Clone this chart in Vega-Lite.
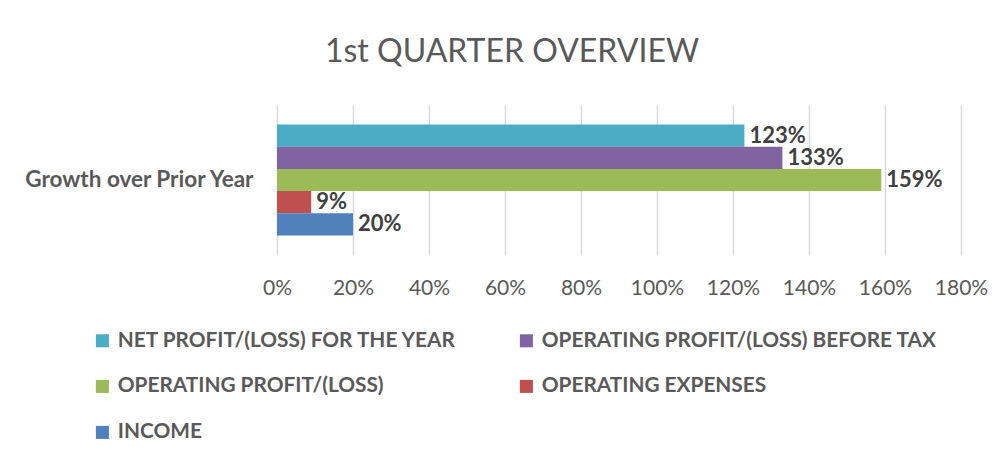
{
  "$schema": "https://vega.github.io/schema/vega-lite/v6.json",
  "width": 684,
  "height": 150,
  "autosize": "none",
  "padding": {"left": 277, "top": 105, "right": 42, "bottom": 203},
  "background": "white",
  "config": {"view": {"stroke": null}},
  "title": {
    "text": "1st QUARTER OVERVIEW",
    "font": "Lato",
    "fontSize": 32,
    "fontWeight": "normal",
    "color": "#595959",
    "anchor": "middle",
    "dx": -107,
    "offset": 36
  },
  "data": {
    "values": [
      {"category": "Growth over Prior Year", "series": "NET PROFIT/(LOSS) FOR THE YEAR", "value": 1.23},
      {"category": "Growth over Prior Year", "series": "OPERATING PROFIT/(LOSS) BEFORE TAX", "value": 1.33},
      {"category": "Growth over Prior Year", "series": "OPERATING PROFIT/(LOSS)", "value": 1.59},
      {"category": "Growth over Prior Year", "series": "OPERATING EXPENSES", "value": 0.09},
      {"category": "Growth over Prior Year", "series": "INCOME", "value": 0.20}
    ]
  },
  "encoding": {
    "y": {
      "field": "category",
      "type": "nominal",
      "title": null,
      "scale": {"paddingInner": 0, "paddingOuter": 0.176},
      "axis": {
        "domain": false,
        "ticks": false,
        "labelFont": "Lato",
        "labelFontWeight": "bold",
        "labelFontSize": 22.5,
        "labelColor": "#595959",
        "labelPadding": 24,
        "labelLimit": 300
      }
    },
    "yOffset": {
      "field": "series",
      "type": "nominal",
      "sort": ["NET PROFIT/(LOSS) FOR THE YEAR", "OPERATING PROFIT/(LOSS) BEFORE TAX", "OPERATING PROFIT/(LOSS)", "OPERATING EXPENSES", "INCOME"],
      "scale": {"paddingInner": 0, "paddingOuter": 0}
    },
    "x": {
      "field": "value",
      "type": "quantitative",
      "title": null,
      "scale": {"domain": [0, 1.8], "nice": false},
      "axis": {
        "values": [0, 0.2, 0.4, 0.6, 0.8, 1.0, 1.2, 1.4, 1.6, 1.8],
        "format": ".0%",
        "domain": false,
        "ticks": false,
        "grid": true,
        "gridColor": "#d9d9d9",
        "gridWidth": 1.5,
        "labelOverlap": false,
        "labelFlush": false,
        "labelFont": "Lato",
        "labelFontSize": 21,
        "labelColor": "#595959",
        "labelPadding": 22
      }
    }
  },
  "layer": [
    {
      "mark": {"type": "bar"},
      "encoding": {
        "color": {
          "field": "series",
          "type": "nominal",
          "scale": {
            "domain": ["NET PROFIT/(LOSS) FOR THE YEAR", "OPERATING PROFIT/(LOSS) BEFORE TAX", "OPERATING PROFIT/(LOSS)", "OPERATING EXPENSES", "INCOME"],
            "range": ["#4BACC6", "#8064A2", "#9BBB59", "#C0504D", "#4F81BD"]
          },
          "legend": {
            "title": null,
            "orient": "none",
            "direction": "horizontal",
            "legendX": -185,
            "legendY": 225,
            "columns": 2,
            "columnPadding": 59,
            "rowPadding": 24,
            "symbolType": "square",
            "symbolSize": 170,
            "symbolStrokeWidth": 0,
            "symbolOffset": 0,
            "labelOffset": 5,
            "labelFont": "Lato",
            "labelFontWeight": "bold",
            "labelFontSize": 20.8,
            "labelColor": "#595959",
            "labelLimit": 500
          }
        }
      }
    },
    {
      "mark": {
        "type": "text",
        "align": "left",
        "baseline": "middle",
        "dx": 5,
        "font": "Lato",
        "fontWeight": "bold",
        "fontSize": 22,
        "color": "#404040"
      },
      "encoding": {
        "text": {"field": "value", "type": "quantitative", "format": ".0%"}
      }
    }
  ]
}
